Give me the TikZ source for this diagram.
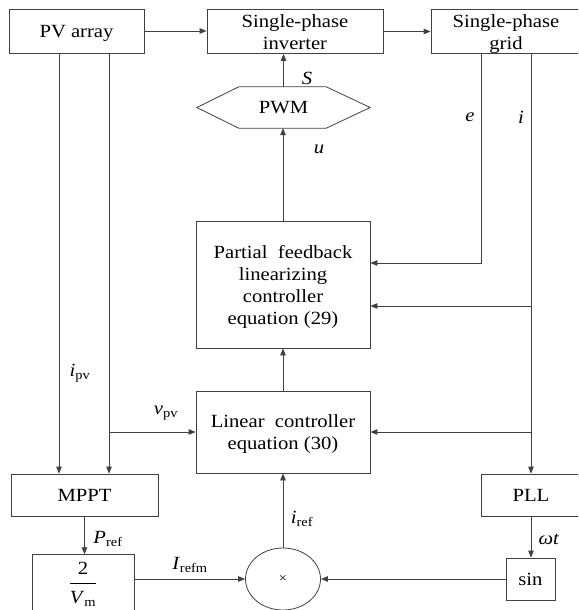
\documentclass[tikz,border=0pt]{standalone}
\usepackage{fontspec}
\setmainfont[FakeStretch=1.11]{Liberation Serif}
\usetikzlibrary{arrows.meta,shapes.geometric}
\newcommand\lowtxt[1]{\raisebox{-2.5pt}[\height][\depth]{\begin{tabular}{@{}c@{}}#1\end{tabular}}}
\begin{document}
\begin{tikzpicture}[x=1pt,y=-1pt,
  font=\fontsize{18.6}{22}\selectfont,
  ln/.style={draw=black!75, line width=0.8pt},
  blk/.style={ln, rectangle, align=center, inner sep=0pt},
  arr/.style={ln, -{Triangle[length=7pt,width=5.5pt]}},
  lbl/.style={inner sep=0pt, font=\fontsize{18.6}{22}\selectfont}]
\useasboundingbox (0,0) rectangle (578,610);
\clip (0,0) rectangle (578,610);
% blocks
\node[blk, minimum width=135, minimum height=44] (pv) at (76.5,31) {\lowtxt{PV array}};
\node[blk, minimum width=176, minimum height=43] (inv) at (295,31.5) {\lowtxt{Single-phase\\inverter}};
\node[blk, minimum width=150, minimum height=43] (grid) at (506,31.5) {\lowtxt{Single-phase\\grid}};
\node[inner sep=0pt, minimum width=173, minimum height=41] (pwm) at (283.5,107.5) {PWM};
\draw[ln] (pwm.west) -- ([xshift=42pt]pwm.north west) -- ([xshift=-44pt]pwm.north east)
  -- (pwm.east) -- ([xshift=-44pt]pwm.south east) -- ([xshift=42pt]pwm.south west) -- cycle;
\node[blk, minimum width=174, minimum height=127] (pfl) at (283,284.5)
  {\lowtxt{Partial\ \ feedback\\linearizing\\controller\\equation (29)}};
\node[blk, minimum width=174, minimum height=82] (lin) at (283,432)
  {\lowtxt{Linear\ \ controller\\equation (30)}};
\node[blk, minimum width=147, minimum height=42] (mppt) at (84.5,495) {MPPT};
\node[blk, minimum width=100, minimum height=42] (pll) at (531,495) {PLL};
\node[blk, minimum width=102, minimum height=51] (gain) at (83,583.5)
  {\renewcommand\arraystretch{1.3}\begin{tabular}{@{}c@{}}2\\\hline\textit{V}\textsubscript{m}\end{tabular}};
\node[blk, minimum width=49, minimum height=42] (sin) at (530.5,579) {sin};
\node[ln, ellipse, inner sep=0pt, minimum width=75, minimum height=62] (mult) at (283,579)
  {\fontsize{13}{13}\selectfont ×};
% helper coordinates
\coordinate (xa) at (59,0);
\coordinate (xb) at (109,0);
\coordinate (xe) at (481,0);
\coordinate (xi) at (531,0);
\coordinate (ye) at (0,263);
\coordinate (yi) at (0,306);
% connectors
\draw[arr] (pv.east) -- (pv.east -| inv.west);
\draw[arr] (inv.east) -- (inv.east -| grid.west);
\draw[arr] (pwm.north) -- (pwm.north |- inv.south);
\draw[arr] (pfl.north) -- (pfl.north |- pwm.south);
\draw[arr] (lin.north) -- (pfl.south);
\draw[arr] (mult.north) -- (lin.south);
\draw[arr] (mppt.south) -- (mppt.south |- gain.north);
\draw[arr] (pll.south) -- (pll.south |- sin.north);
\draw[arr] (gain.east |- mult.west) -- (mult.west);
\draw[arr] (sin.west) -- (mult.east);
\draw[arr] (xa |- pv.south) -- (xa |- mppt.north);
\draw[arr] (xb |- pv.south) -- (xb |- mppt.north);
\draw[arr] (xb |- lin.west) -- (lin.west);
\draw[arr] (xe |- grid.south) |- (pfl.east |- ye);
\draw[arr] (xi |- grid.south) -- (xi |- pll.north);
\draw[arr] (xi |- yi) -- (pfl.east |- yi);
\draw[arr] (xi |- lin.east) -- (lin.east);
% labels
\node[lbl] (lS) at (307,78) {\textit{S}};
\node[lbl] (lu) at (319,149) {\textit{u}};
\node[lbl] (le) at (470,117) {\textit{e}};
\node[lbl] (li) at (521,117) {\textit{i}};
\node[lbl] (lipv) at (80,373) {\textit{i}\textsubscript{pv}};
\node[lbl] (lvpv) at (166,413) {\textit{v}\textsubscript{pv}};
\node[lbl] (lpref) at (108,539) {\textit{P}\textsubscript{ref}};
\node[lbl] (lirefm) at (190,565) {\textit{I}\textsubscript{refm}};
\node[lbl] (liref) at (302,519) {\textit{i}\textsubscript{ref}};
\node[lbl] (lwt) at (549,539) {\textit{ωt}};
\end{tikzpicture}
\end{document}
